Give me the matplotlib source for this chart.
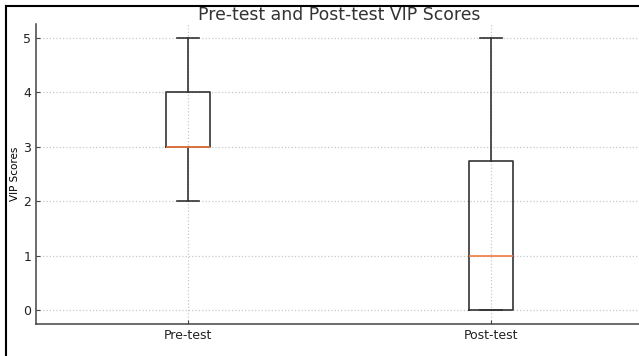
import numpy as np
import matplotlib.pyplot as plt
from matplotlib.lines import Line2D

# scores
labels = ["Pre-test", "Post-test"]
pre_scores = [2, 3, 3, 3, 3, 4, 4, 5]
post_scores = [0, 0, 0, 1, 1, 2, 5, 5]
yticks = [0, 1, 2, 3, 4, 5]

fig = plt.figure(figsize=(6.39, 3.56), dpi=100)
ax = fig.add_axes([0.0563, 0.0899, 0.95, 0.8416])

bp = ax.boxplot([pre_scores, post_scores], widths=0.145,
                boxprops=dict(color="#333333", linewidth=1.2),
                whiskerprops=dict(color="#333333", linewidth=1.2),
                capprops=dict(color="#333333", linewidth=1.2),
                medianprops=dict(color="#f07b3f", linewidth=1.2))
ax.set_xticks([1, 2])
ax.set_xticklabels(labels)
ax.set_yticks(yticks)

ax.grid(True, linestyle=":", color="#c8c8c8", linewidth=0.9)
ax.set_axisbelow(True)
for s in ["top", "right"]:
    ax.spines[s].set_visible(False)
for s in ["left", "bottom"]:
    ax.spines[s].set_color("#444444")
    ax.spines[s].set_linewidth(1.1)
ax.tick_params(direction="in", length=3, labelsize=9, colors="#444444", labelcolor="#222222")

ax.set_title("Pre-test and Post-test VIP Scores", fontsize=12.4, color="#333333", pad=3)
ax.set_ylabel("VIP Scores", fontsize=7.5, labelpad=2)

# screenshot frame on top and left
fig.add_artist(Line2D([6/639, 1], [1-6/356, 1-6/356], color="black", lw=1.5))
fig.add_artist(Line2D([6/639, 6/639], [0, 1-6/356], color="black", lw=1.5))

fig.savefig("out.png", dpi=100)
